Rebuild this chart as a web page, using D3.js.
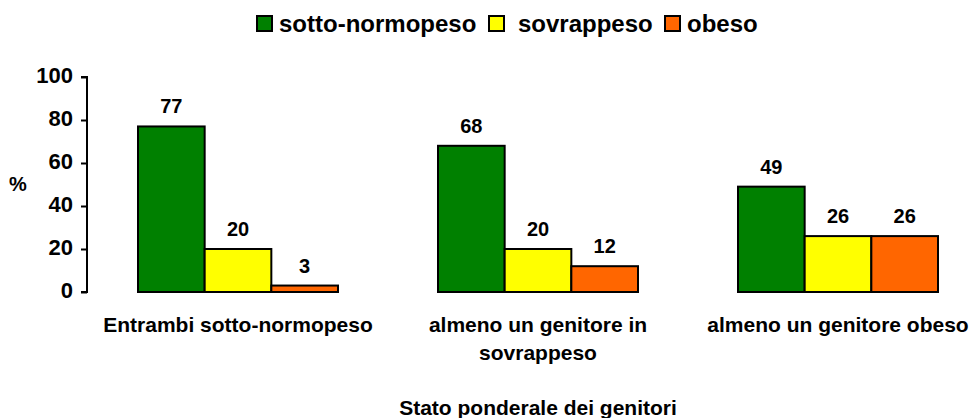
<!DOCTYPE html>
<html lang="it">
<head>
<meta charset="UTF-8" />
<script src="https://d3js.org/d3.v7.min.js"></script>
<style>
  body { margin: 0; background: #fff; }
  svg text { font-family: Arial, "Liberation Sans", sans-serif; font-weight: bold; fill: #000; }
</style>
</head>
<body>
<div id="chart"></div>
<script>
  const categories = ["Entrambi sotto-normopeso", "almeno un genitore in sovrappeso", "almeno un genitore obeso"];
  const categoryLines = [["Entrambi sotto-normopeso"], ["almeno un genitore in", "sovrappeso"], ["almeno un genitore obeso"]];
  const seriesNames = ["sotto-normopeso", "sovrappeso", "obeso"];
  const sottoNormopeso = [77, 68, 49];
  const sovrappeso = [20, 20, 26];
  const obeso = [3, 12, 26];
  const yTicks = [0, 20, 40, 60, 80, 100];

  const colors = ["#008000", "#ffff00", "#ff6600"];
  const seriesValues = [sottoNormopeso, sovrappeso, obeso];

  const width = 973, height = 418;

  const svg = d3.select("#chart").append("svg")
    .attr("width", width).attr("height", height);

  function label(parent, x, y, txt, size, anchor) {
    return parent.append("text")
      .attr("x", x).attr("y", y)
      .attr("text-anchor", anchor || "middle")
      .style("font-size", size + "px")
      .text(txt);
  }

  const x0 = d3.scaleBand()
    .domain(categories)
    .range([88, 988])
    .paddingInner(1 / 3)
    .paddingOuter(1 / 6);

  const x1 = d3.scaleBand()
    .domain(seriesNames)
    .range([0, x0.bandwidth()]);

  const y = d3.scaleLinear().domain([0, 100]).range([292, 77]);

  // y axis
  const yAxis = svg.append("g")
    .attr("transform", "translate(87,0)")
    .call(d3.axisLeft(y).tickValues(yTicks).tickSize(6).tickPadding(8));
  yAxis.select(".domain").attr("stroke", "#000").attr("stroke-width", 2)
    .attr("d", `M-6,${y(100)}H0V${y(0)}H-6`);
  yAxis.selectAll(".tick line").attr("stroke", "#000").attr("stroke-width", 2);
  yAxis.selectAll(".tick text")
    .attr("dy", "0.32em").attr("y", -2)
    .style("font-size", "22px").style("font-family", "Arial, 'Liberation Sans', sans-serif")
    .style("font-weight", "bold").attr("fill", "#000");

  label(svg, 18, 191, "%", 20);

  // bars
  const groups = svg.selectAll("g.grp")
    .data(categories)
    .enter().append("g")
    .attr("class", "grp")
    .attr("transform", d => `translate(${x0(d)},0)`);

  groups.each(function (cat, ci) {
    const g = d3.select(this);
    const rows = seriesNames.map((s, si) => ({ s, si, v: seriesValues[si][ci] }));
    g.selectAll("rect")
      .data(rows)
      .enter().append("rect")
      .attr("x", d => x1(d.s))
      .attr("y", d => y(d.v))
      .attr("width", x1.bandwidth())
      .attr("height", d => y(0) - y(d.v))
      .attr("fill", d => colors[d.si])
      .attr("stroke", "#000")
      .attr("stroke-width", 2);
    rows.forEach(d => {
      label(g, x1(d.s) + x1.bandwidth() / 2, y(d.v) - 13, d.v, 20);
    });
  });

  // category labels
  categories.forEach((c, i) => {
    categoryLines[i].forEach((line, li) => {
      label(svg, x0(c) + x0.bandwidth() / 2, 332 + li * 28, line, 21);
    });
  });

  label(svg, 538, 415, "Stato ponderale dei genitori", 21);

  // legend
  const legendX = [257, 489, 665];
  const legendTextX = [279, 518, 687];
  const legend = svg.selectAll("g.leg")
    .data(seriesNames)
    .enter().append("g")
    .attr("class", "leg");
  legend.append("rect")
    .attr("x", (d, i) => legendX[i]).attr("y", 16)
    .attr("width", 15).attr("height", 15)
    .attr("fill", (d, i) => colors[i])
    .attr("stroke", "#000").attr("stroke-width", 2);
  legend.each(function (d, i) {
    label(d3.select(this), legendTextX[i], 32, d, 24, "start");
  });
</script>
</body>
</html>
